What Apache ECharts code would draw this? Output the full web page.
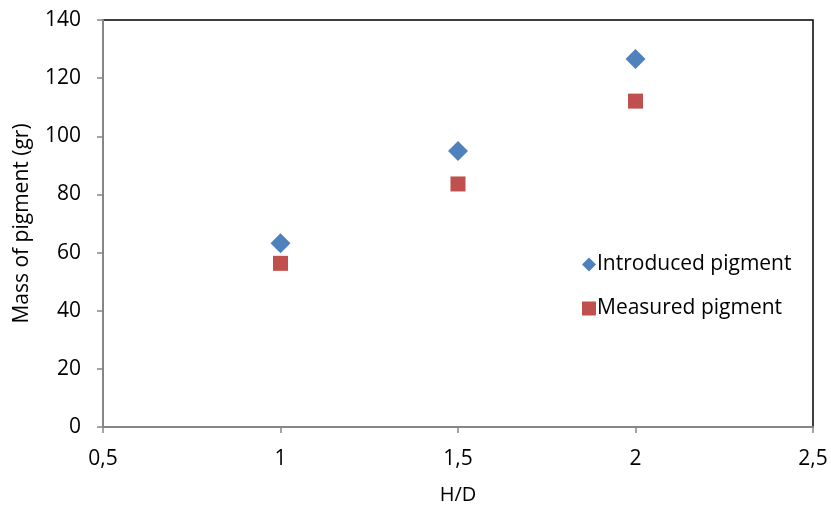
<!DOCTYPE html>
<html><head><meta charset="utf-8">
<script src="https://cdn.jsdelivr.net/npm/echarts@6/dist/echarts.min.js"></script>
<style>html,body{margin:0;padding:0;background:#fff}#c{width:831px;height:510px}</style>
</head><body><div id="c"></div>
<script>
const hd = [1, 1.5, 2];
const introduced = [63.2, 94.9, 126.6];
const measured = [56.3, 83.6, 112.1];
const seriesNames = ['Introduced pigment', 'Measured pigment'];
const xTitle = 'H/D';
const yTitle = 'Mass of pigment (gr)';

const font = '"Open Sans", sans-serif';
const chart = echarts.init(document.getElementById('c'));
chart.setOption({
  animation: false,
  grid: {left: 103, right: 18, top: 20, bottom: 83, show: true, borderColor: '#000', borderWidth: 1.5, backgroundColor: '#fff'},
  xAxis: {
    type: 'value', min: 0.5, max: 2.5, interval: 0.5,
    name: xTitle, nameLocation: 'middle', nameGap: 58,
    nameTextStyle: {fontFamily: font, fontSize: 20, color: '#000'},
    axisLine: {show: true, lineStyle: {color: '#868686', width: 2}},
    axisTick: {show: true, length: 6, lineStyle: {color: '#868686', width: 1.5}},
    axisLabel: {fontFamily: font, fontSize: 21, color: '#000', margin: 22,
      formatter: v => String(v).replace('.', ',')},
    splitLine: {show: false}
  },
  yAxis: {
    type: 'value', min: 0, max: 140, interval: 20,
    name: yTitle, nameLocation: 'middle', nameGap: 70,
    nameTextStyle: {fontFamily: font, fontSize: 21, color: '#000'},
    axisLine: {show: true, lineStyle: {color: '#868686', width: 2}},
    axisTick: {show: true, length: 6, lineStyle: {color: '#868686', width: 1.5}},
    axisLabel: {fontFamily: font, fontSize: 21, color: '#000', margin: 22},
    splitLine: {show: false}
  },
  legend: {
    orient: 'vertical', left: 577, top: 249, itemGap: 23,
    itemWidth: 14, itemHeight: 14,
    textStyle: {fontFamily: font, fontSize: 21, color: '#000', padding: [0, 0, 0, -4]},
    data: [
      {name: seriesNames[0], icon: 'diamond', itemStyle: {opacity: 1}},
      {name: seriesNames[1], icon: 'rect', itemStyle: {opacity: 1}}
    ]
  },
  series: [
    {name: seriesNames[0], type: 'scatter', symbol: 'diamond', symbolSize: 20,
     itemStyle: {color: '#4F81BD', opacity: 1}, data: hd.map((x, i) => [x, introduced[i]])},
    {name: seriesNames[1], type: 'scatter', symbol: 'rect', symbolSize: 15,
     itemStyle: {color: '#C0504D', opacity: 1}, data: hd.map((x, i) => [x, measured[i]])}
  ]
});
</script></body></html>
